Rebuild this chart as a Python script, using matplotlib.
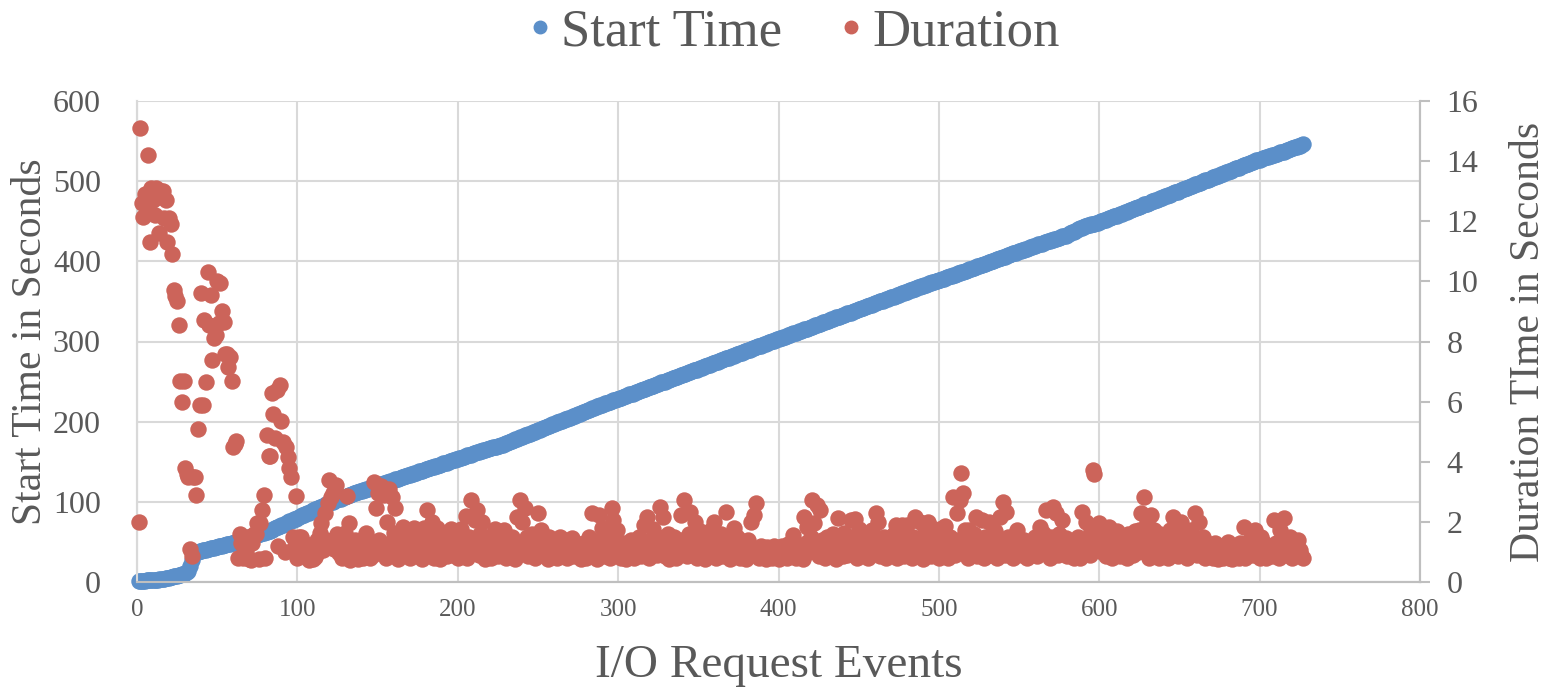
import numpy as np
import matplotlib
matplotlib.use("Agg")
import matplotlib.pyplot as plt
from matplotlib.lines import Line2D

# start time of each I/O request event (seconds)
start_time = [
    1, 1, 1, 1.5, 1.5, 2, 2, 2, 2, 2.5,
    2.5, 3, 3, 3.5, 3.5, 4, 4, 4.5, 5, 5.5,
    6, 6.5, 7, 7.5, 8, 8.5, 9, 10, 10.5, 11,
    12, 14, 20, 28, 35, 37, 37.5, 38, 38.5, 39,
    39.5, 40, 40.5, 41, 41.5, 42, 42.5, 43, 43.5, 44,
    44.5, 45, 45.5, 46, 46.5, 47, 47.5, 48, 48.5, 49,
    50, 50.5, 51, 52, 52.5, 53, 54, 54.5, 55, 56,
    56.5, 57, 58, 58.5, 59, 59.5, 60, 61, 61.5, 62,
    62.5, 63, 64, 65, 66, 67, 68, 69, 70, 71,
    71.5, 72.5, 73.5, 74.5, 75.5, 76.5, 77.5, 78.5, 79, 80,
    81, 82, 83, 84, 85, 85.5, 86.5, 87.5, 88.5, 89.5,
    90.5, 91.5, 92.5, 93, 94, 95, 96, 97, 98, 98.5,
    99.5, 100, 101, 102, 103, 103.5, 104, 105, 106, 106.5,
    107.5, 108, 109, 110, 110.5, 111, 112, 112.5, 113, 114,
    114.5, 115, 116, 116.5, 117, 118, 118.5, 119, 120, 120.5,
    121, 122, 122.5, 123, 124, 124.5, 125, 126, 126.5, 127,
    128, 128.5, 129, 130, 130.5, 131, 132, 132.5, 133, 134,
    134.5, 135, 136, 136.5, 137, 138, 138.5, 139, 140, 140.5,
    141, 142, 142.5, 143, 144, 144.5, 145, 146, 146.5, 147,
    148, 148.5, 149, 150, 150.5, 151, 152, 152.5, 153, 154,
    154.5, 155, 156, 156.5, 157, 158, 158.5, 159, 160, 160.5,
    161, 162, 162.5, 163, 164, 164.5, 165, 166, 166.5, 167,
    167.5, 168, 168.5, 169, 169.5, 170, 171, 171.5, 172.5, 173,
    174, 175, 175.5, 176.5, 177, 178, 179, 179.5, 180.5, 181,
    182, 183, 183.5, 184.5, 185, 186, 187, 187.5, 188.5, 189,
    190, 191, 191.5, 192.5, 193, 194, 195, 195.5, 196.5, 197,
    198, 199, 199.5, 200.5, 201, 202, 203, 203.5, 204.5, 205,
    206, 207, 207.5, 208.5, 209, 210, 211, 211.5, 212.5, 213,
    214, 215, 215.5, 216.5, 217, 218, 219, 219.5, 220.5, 221,
    222, 223, 223.5, 224.5, 225, 226, 227, 227.5, 228, 228.5,
    229, 230, 231, 231.5, 232, 233, 234, 234.5, 235, 236,
    237, 237.5, 238, 239, 240, 240.5, 241, 242, 243, 243.5,
    244, 245, 246, 246.5, 247, 248, 249, 249.5, 250, 251,
    252, 252.5, 253, 254, 255, 255.5, 256, 257, 258, 258.5,
    259, 260, 261, 261.5, 262, 263, 264, 264.5, 265, 266,
    267, 267.5, 268, 269, 270, 270.5, 271, 272, 273, 273.5,
    274, 275, 276, 276.5, 277, 278, 279, 279.5, 280, 281,
    282, 282.5, 283, 284, 285, 285.5, 286, 287, 288, 288.5,
    289, 290, 291, 291.5, 292, 293, 294, 294.5, 295, 296,
    297, 297.5, 298, 299, 300, 300.5, 301, 302, 302.5, 303,
    304, 304.5, 305, 306, 307, 307.5, 308, 309, 310, 310.5,
    311, 312, 312.5, 313, 314, 315, 315.5, 316, 317, 318,
    318.5, 319, 320, 321, 321.5, 322, 323, 324, 324.5, 325,
    326, 327, 327.5, 328, 329, 330, 330.5, 331, 332, 332.5,
    333, 334, 335, 335.5, 336, 337, 338, 338.5, 339, 340,
    341, 341.5, 342, 343, 344, 344.5, 345, 346, 347, 347.5,
    348, 349, 350, 350.5, 351, 352, 352.5, 353, 354, 355,
    355.5, 356, 357, 358, 358.5, 359, 360, 361, 361.5, 362,
    363, 364, 364.5, 365, 366, 367, 367.5, 368, 369, 369.5,
    370, 371, 372, 372.5, 373, 374, 374.5, 375, 376, 376.5,
    377, 378, 378.5, 379, 380, 381, 381.5, 382, 383, 383.5,
    384, 385, 386, 386.5, 387, 388, 388.5, 389, 390, 391,
    391.5, 392, 393, 394, 394.5, 395, 396, 396.5, 397, 398,
    399, 399.5, 400, 401, 402, 402.5, 403, 404, 404.5, 405,
    406, 407, 407.5, 408, 409, 410, 410.5, 411, 412, 412.5,
    413, 414, 414.5, 415, 416, 417, 417.5, 418, 419, 419.5,
    420, 421, 421.5, 422, 423, 423.5, 424, 425, 425.5, 426,
    427, 427.5, 428, 429, 429.5, 430, 431, 431.5, 432, 433,
    434, 435, 436, 437, 438, 439, 440, 441, 442, 443,
    444, 444.5, 445, 445.5, 446, 446.5, 447, 447.5, 448, 449,
    450, 450.5, 451, 452, 453, 453.5, 454, 455, 456, 456.5,
    457, 458, 459, 459.5, 460, 461, 462, 463, 463.5, 464,
    465, 466, 467, 467.5, 468, 469, 470, 471, 471.5, 472,
    473, 474, 475, 475.5, 476, 477, 478, 478.5, 479, 480,
    481, 482, 482.5, 483, 484, 485, 486, 486.5, 487, 488,
    489, 490, 490.5, 491, 492, 493, 494, 494.5, 495, 496,
    497, 497.5, 498, 499, 500, 501, 501.5, 502, 503, 504,
    505, 505.5, 506, 507, 508, 509, 509.5, 510, 511, 512,
    512.5, 513, 514, 515, 516, 516.5, 517, 518, 519, 520,
    520.5, 521, 522, 523, 523.5, 524, 525, 526, 526.5, 527,
    528, 528.5, 529, 530, 530.5, 531, 532, 532.5, 533, 534,
    534.5, 535, 536, 536.5, 537, 538, 538.5, 539, 540, 541,
    541.5, 542, 543, 543.5, 544, 545, 546,
]

# duration of each event (seconds)
duration = [
    2.0, 15.1, 12.6, 12.15, 12.9, 12.5, 14.2, 11.3, 13.1, 12.7,
    12.2, 13.1, 12.8, 11.6, 13.0, 13.0, 12.1, 12.7, 11.3, 12.1,
    11.9, 10.9, 9.7, 9.5, 9.35, 8.55, 6.7, 6.0, 6.7, 3.8,
    3.6, 3.5, 1.1, 0.85, 3.5, 3.5, 2.9, 5.1, 5.9, 9.6,
    5.9, 8.7, 6.65, 10.3, 8.55, 9.55, 7.4, 8.1, 8.2, 10.0,
    8.6, 9.95, 9.0, 8.65, 7.6, 7.6, 7.15, 7.5, 6.7, 4.5,
    4.6, 4.7, 0.8, 1.6, 1.3, 0.8, 1.15, 1.0, 1.5, 0.75,
    0.73, 1.3, 1.6, 1.6, 1.95, 0.75, 1.96, 2.4, 2.9, 0.8,
    4.9, 4.2, 4.2, 6.3, 5.6, 4.8, 6.4, 1.2, 6.55, 5.35,
    4.65, 1.0, 4.5, 4.15, 3.8, 3.5, 1.5, 1.13, 2.85, 0.8,
    1.5, 1.5, 1.05, 1.3, 0.9, 1.2, 0.73, 0.9, 1.1, 0.75,
    0.84, 1.4, 1.0, 1.63, 1.96, 1.06, 2.3, 1.4, 2.63, 3.4,
    2.84, 2.95, 1.1, 3.23, 1.6, 0.95, 1.3, 0.8, 1.1, 1.63,
    2.85, 1.95, 0.73, 1.2, 0.9, 1.4, 1.0, 0.75, 1.3, 1.1,
    0.8, 1.5, 1.63, 1.0, 0.8, 1.2, 0.9, 3.33, 2.46, 2.96,
    1.4, 3.2, 1.1, 2.9, 0.8, 2.0, 3.1, 1.3, 2.83, 1.63,
    2.46, 1.0, 0.75, 1.4, 1.1, 1.84, 0.9, 1.5, 1.2, 0.8,
    1.6, 1.0, 1.8, 1.3, 0.85, 1.1, 1.45, 0.75, 1.8, 1.2,
    2.4, 1.0, 1.5, 2.0, 0.8, 1.3, 1.8, 1.1, 0.75, 1.4,
    1.0, 1.6, 0.85, 1.25, 1.5, 1.75, 0.9, 1.1, 1.4, 0.8,
    1.6, 1.75, 1.0, 1.3, 2.2, 0.8, 1.5, 2.73, 1.1, 1.4,
    2.06, 2.4, 0.9, 1.6, 2.0, 1.2, 0.75, 1.5, 1.0, 1.3,
    0.8, 1.55, 1.75, 1.1, 0.85, 1.4, 1.0, 1.6, 1.73, 0.8,
    1.4, 1.1, 0.9, 1.5, 1.2, 0.75, 2.17, 1.3, 2.73, 2.0,
    1.0, 2.46, 1.5, 0.85, 1.2, 1.6, 1.0, 0.8, 1.4, 2.3,
    1.1, 1.73, 0.9, 1.3, 1.0, 0.75, 1.5, 1.2, 0.9, 1.35,
    1.0, 0.8, 1.25, 1.5, 0.9, 1.1, 1.4, 0.8, 1.2, 1.0,
    1.45, 0.85, 1.1, 1.3, 0.9, 1.2, 0.75, 1.0, 1.3, 0.8,
    1.1, 1.5, 0.9, 2.3, 1.2, 1.0, 0.75, 2.23, 1.4, 1.8,
    1.1, 0.85, 1.3, 1.5, 0.8, 2.46, 2.06, 1.2, 1.73, 0.9,
    1.1, 0.8, 1.3, 1.0, 0.75, 1.2, 0.9, 1.4, 1.05, 0.8,
    1.3, 1.0, 1.5, 0.85, 1.2, 1.9, 1.1, 2.17, 0.8, 1.4,
    1.0, 1.75, 1.2, 0.9, 1.5, 2.5, 1.3, 2.17, 0.85, 1.1,
    1.6, 0.75, 1.3, 1.0, 1.5, 0.8, 1.2, 1.0, 2.23, 1.4,
    2.73, 1.1, 0.85, 1.6, 2.34, 1.0, 1.3, 2.0, 0.8, 1.5,
    1.7, 1.0, 1.3, 0.75, 1.2, 1.5, 0.9, 1.73, 1.1, 2.0,
    0.8, 1.4, 1.0, 1.6, 0.85, 1.25, 2.34, 1.5, 1.0, 0.75,
    1.3, 1.8, 0.9, 1.5, 1.1, 0.8, 1.35, 1.0, 1.2, 0.75,
    1.4, 0.9, 2.0, 1.1, 2.23, 2.63, 1.0, 0.8, 1.2, 0.9,
    1.05, 0.75, 1.15, 0.85, 1.0, 0.8, 1.2, 0.9, 1.1, 0.75,
    1.0, 1.2, 0.85, 1.1, 0.8, 1.25, 0.95, 1.3, 1.56, 1.0,
    0.8, 1.2, 0.9, 1.1, 0.75, 2.17, 1.3, 1.84, 1.0, 1.5,
    2.73, 1.96, 1.2, 2.55, 0.85, 2.4, 1.4, 1.0, 0.8, 1.5,
    1.2, 0.9, 1.3, 1.6, 1.0, 0.75, 2.13, 1.4, 1.1, 0.85,
    1.63, 1.2, 0.9, 1.5, 2.06, 1.0, 1.3, 2.1, 0.8, 1.75,
    1.2, 0.9, 1.4, 1.0, 1.6, 0.8, 1.2, 1.73, 1.0, 1.4,
    2.3, 2.0, 0.85, 1.3, 1.1, 1.5, 0.8, 1.2, 0.95, 1.4,
    1.0, 1.6, 1.9, 0.8, 1.3, 1.1, 1.9, 0.85, 1.4, 1.9,
    1.0, 1.2, 0.8, 1.5, 2.17, 1.1, 0.9, 2.0, 1.3, 0.75,
    1.6, 1.0, 2.0, 1.2, 0.85, 1.8, 1.4, 1.0, 1.55, 0.8,
    1.2, 1.8, 1.0, 1.85, 1.3, 0.8, 1.5, 1.1, 2.84, 0.9,
    2.3, 1.4, 2.73, 3.62, 2.95, 1.73, 1.2, 0.8, 1.73, 1.4,
    1.0, 1.6, 2.17, 0.85, 1.3, 1.1, 2.06, 0.8, 1.5, 1.2,
    2.0, 0.9, 1.4, 1.0, 1.7, 0.8, 1.3, 2.17, 1.1, 2.67,
    0.9, 2.34, 1.5, 1.0, 1.3, 0.8, 1.2, 1.5, 1.73, 1.0,
    1.1, 0.9, 1.4, 1.2, 0.8, 1.05, 0.9, 1.3, 1.0, 1.5,
    0.85, 1.2, 1.84, 1.0, 1.63, 1.3, 2.4, 1.1, 0.8, 1.5,
    2.5, 1.2, 2.3, 0.9, 1.6, 1.1, 2.06, 1.3, 1.45, 0.85,
    1.2, 1.1, 0.9, 0.8, 1.3, 1.0, 1.5, 0.8, 2.34, 1.2,
    1.0, 2.0, 1.4, 0.9, 1.73, 3.73, 3.6, 1.3, 1.1, 1.96,
    1.5, 1.0, 1.3, 0.85, 1.6, 1.84, 1.1, 0.8, 1.4, 1.0,
    1.7, 1.2, 0.85, 1.5, 1.0, 1.3, 0.8, 1.6, 1.1, 1.4,
    0.9, 1.7, 1.2, 1.0, 1.73, 2.3, 1.4, 2.84, 1.1, 2.0,
    0.8, 2.23, 1.5, 1.73, 1.0, 1.3, 0.8, 1.6, 1.2, 0.9,
    1.4, 1.1, 0.8, 1.73, 1.3, 2.17, 1.0, 1.5, 0.85, 1.2,
    2.0, 1.4, 1.0, 1.73, 0.8, 1.3, 1.73, 1.1, 1.5, 2.3,
    0.9, 2.0, 1.2, 1.0, 1.5, 0.8, 1.3, 1.1, 0.9, 1.2,
    0.8, 1.3, 1.0, 0.75, 1.2, 1.06, 0.8, 1.1, 0.9, 1.34,
    0.8, 1.0, 0.75, 1.2, 0.9, 1.1, 0.8, 1.3, 1.0, 1.84,
    0.8, 1.2, 1.0, 1.4, 1.5, 0.9, 1.73, 1.2, 1.06, 0.8,
    1.5, 1.0, 1.3, 0.8, 1.1, 0.9, 1.2, 0.85, 2.06, 1.3,
    1.0, 0.8, 1.73, 1.2, 2.12, 1.5, 0.9, 1.1, 1.5, 0.8,
    1.3, 1.0, 1.2, 1.4, 1.06, 0.9, 0.79,
]

series_names = ["Start Time", "Duration"]
x_ticks = [0, 100, 200, 300, 400, 500, 600, 700, 800]
left_ticks = [0, 100, 200, 300, 400, 500, 600]
right_ticks = [0, 2, 4, 6, 8, 10, 12, 14, 16]

blue = "#5b8fc9"
red = "#cc645a"
txt = "#595959"
grid_c = "#d9d9d9"

plt.rcParams["font.family"] = ["Liberation Serif", "DejaVu Serif"]

fig = plt.figure(figsize=(15.5, 6.91), dpi=100)
ax = fig.add_axes([137 / 1550, 1 - 582 / 691, (1420 - 137) / 1550, (582 - 101) / 691])
ax2 = ax.twinx()

ev_start = np.arange(1, len(start_time) + 1)
ev_dur = np.arange(1, len(duration) + 1)

ax.scatter(ev_start, start_time, s=140, color=blue, linewidths=0, zorder=3, clip_on=False)
ax2.scatter(ev_dur, duration, s=140, color=red, linewidths=0, zorder=3, clip_on=False)

ax.set_xlim(0, 800)
ax.set_ylim(0, 600)
ax2.set_ylim(0, 16)
ax.set_xticks(x_ticks)
ax.set_yticks(left_ticks)
ax2.set_yticks(right_ticks)

ax.grid(True, color=grid_c, linewidth=1.5)
ax.set_axisbelow(True)

for a in (ax, ax2):
    a.spines["top"].set_visible(False)
    a.spines["left"].set_color(grid_c)
    a.spines["bottom"].set_color("#bfbfbf")
    a.spines["right"].set_color("#bfbfbf")
    for s in a.spines.values():
        s.set_linewidth(1.5)

ax.tick_params(axis="x", length=0, pad=12, labelsize=18, labelcolor=txt)
ax.tick_params(axis="y", length=0, pad=26, labelsize=23, labelcolor=txt)
ax2.tick_params(axis="y", length=7, width=1.5, color="#bfbfbf", pad=12,
                labelsize=23, labelcolor=txt)

ax.set_xlabel("I/O Request Events", fontsize=34, color=txt)
ax.set_ylabel("Start Time in Seconds", fontsize=30, color=txt)
ax2.set_ylabel("Duration TIme in Seconds", fontsize=30, color=txt)
ax.xaxis.set_label_coords(0.5, -0.13)
ax.yaxis.set_label_coords(-0.068, 0.5)
ax2.yaxis.set_label_coords(1.07, 0.5)

handles = [
    Line2D([], [], marker="o", linestyle="none", markersize=9, color=blue),
    Line2D([], [], marker="o", linestyle="none", markersize=9, color=red),
]
fig.legend(handles, series_names, loc="center", bbox_to_anchor=(0.511, 1 - 32 / 691),
           ncol=2, frameon=False, fontsize=38, labelcolor=txt,
           handletextpad=0.1, columnspacing=1.0, handlelength=0.6)

fig.savefig("out.png", dpi=100)
